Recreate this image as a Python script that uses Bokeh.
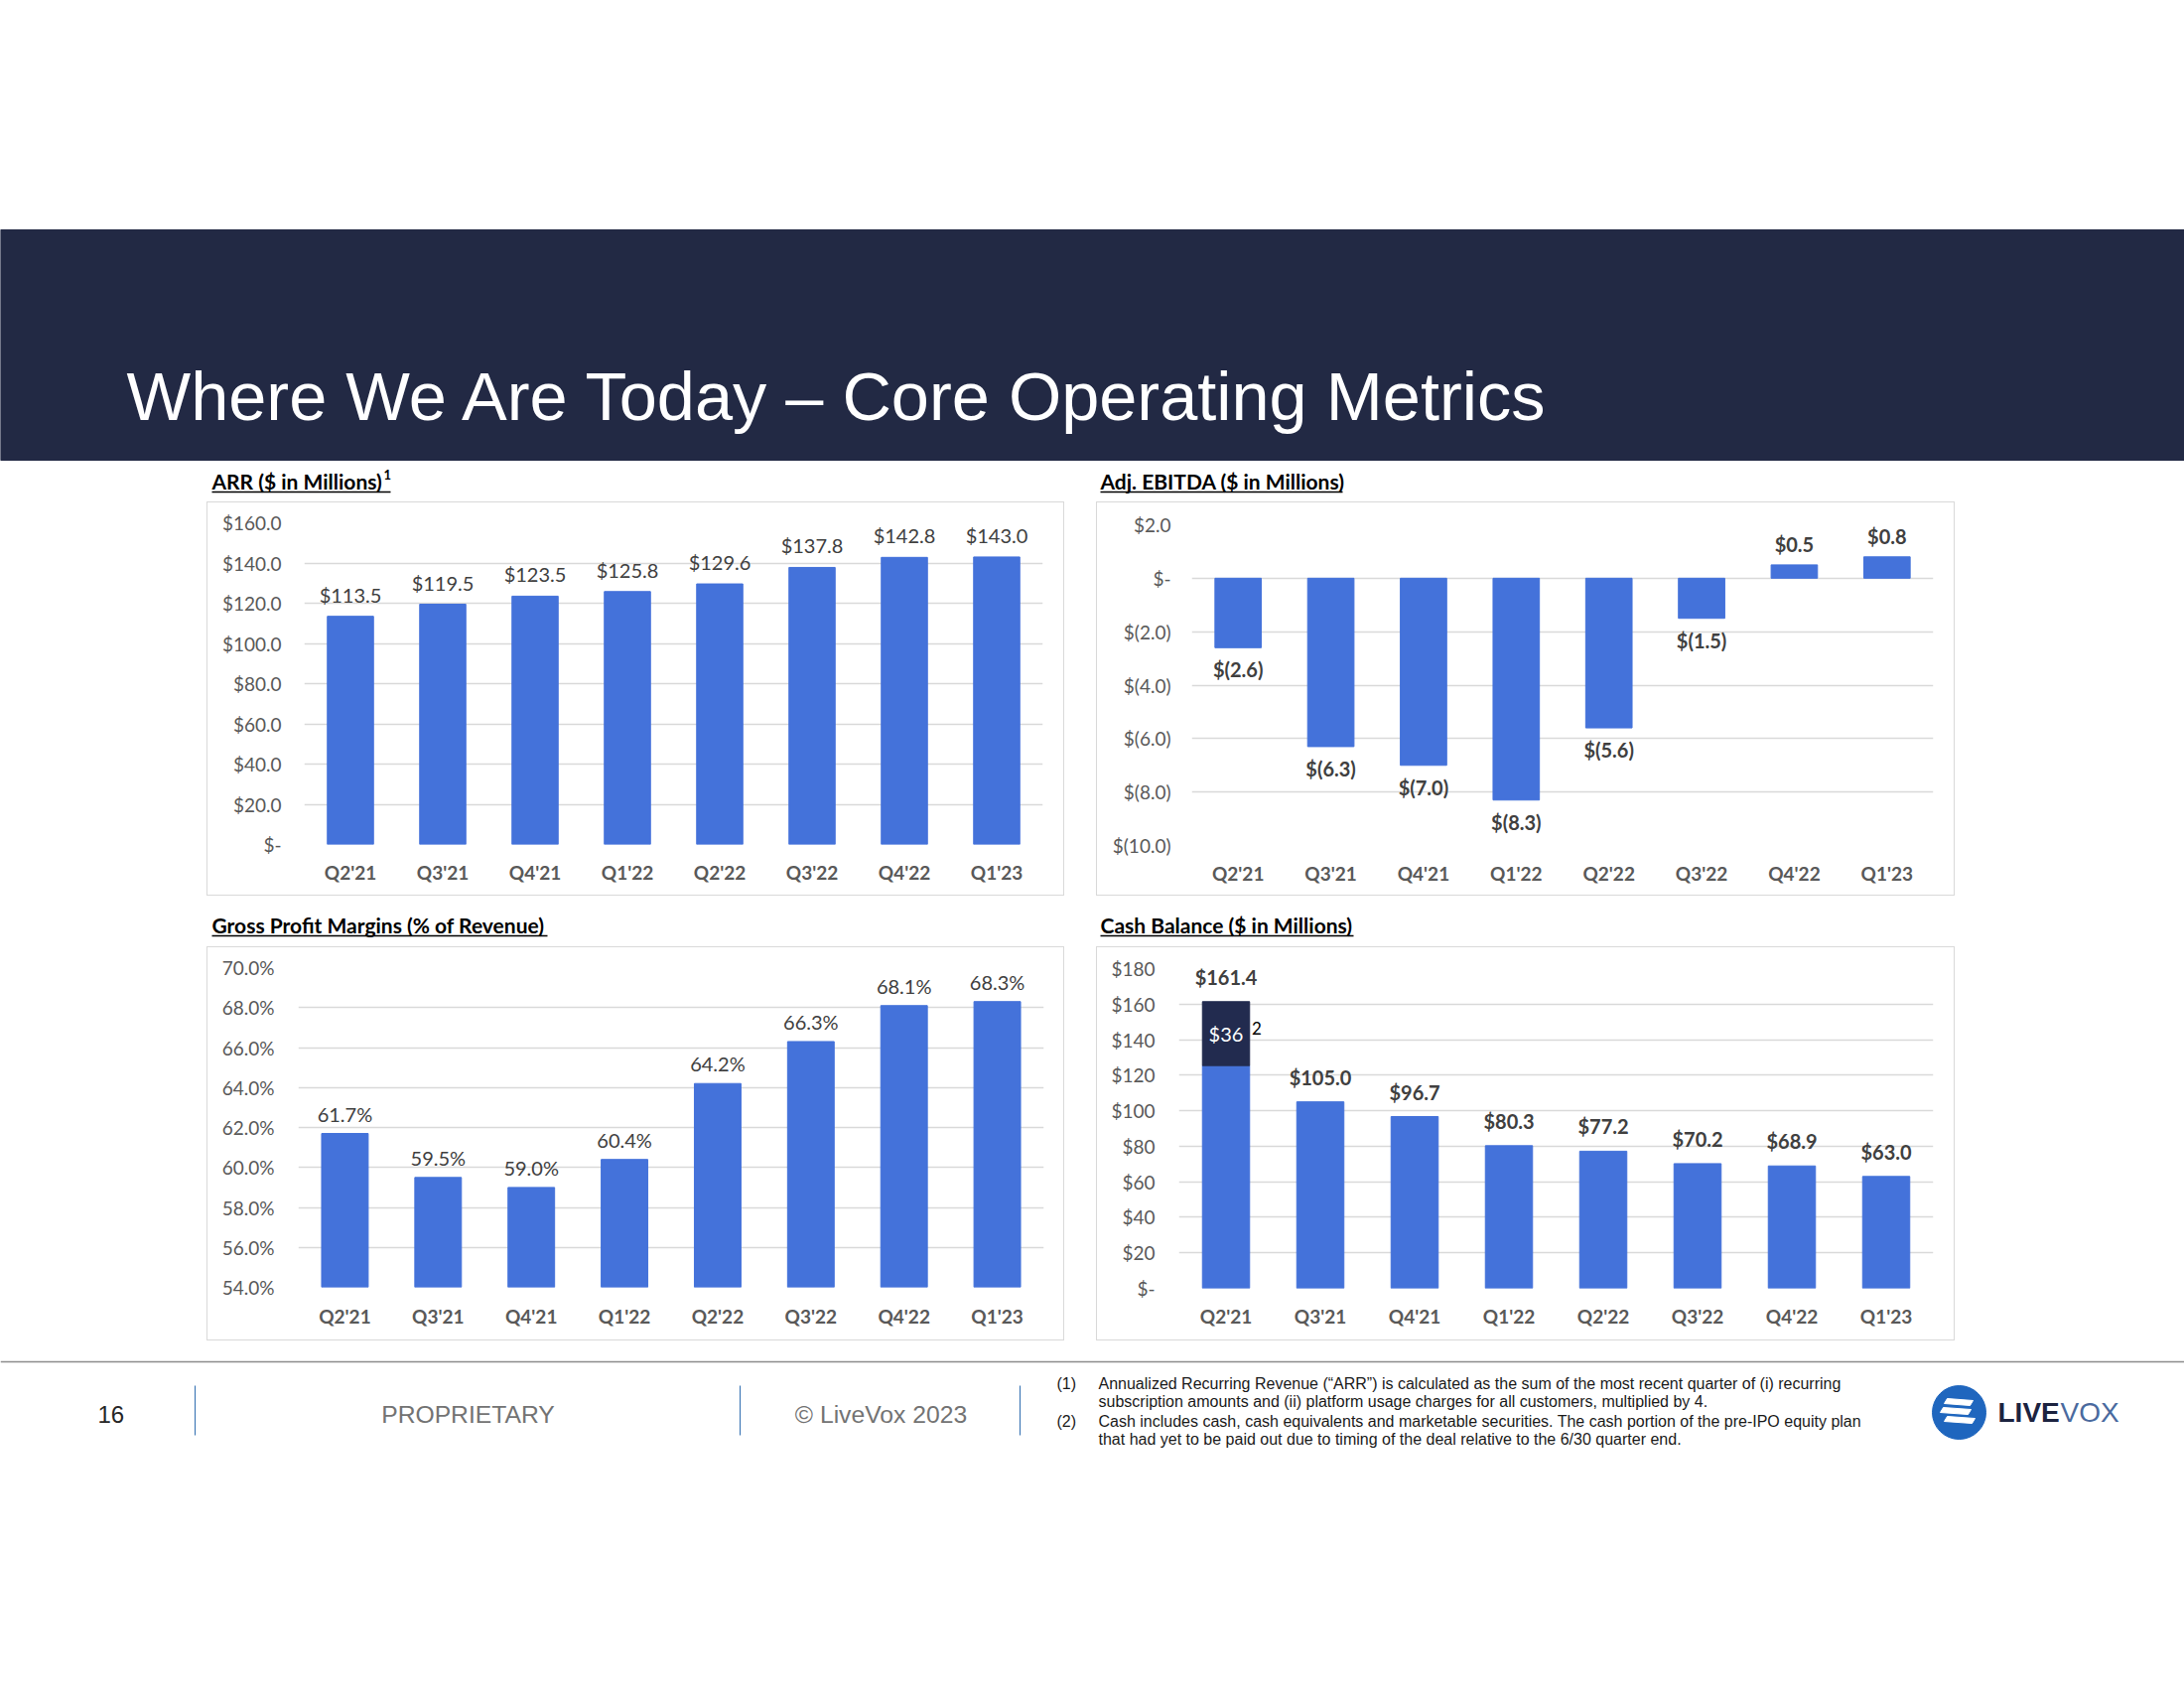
from bokeh.plotting import figure
from bokeh.models import FactorRange, Range1d, FixedTicker, ColumnDataSource, Spacer
from bokeh.layouts import row, column
from bokeh.core.properties import value
from bokeh.embed import file_html
from bokeh.resources import INLINE

# ---------------- data ----------------
QUARTERS = ["Q2'21", "Q3'21", "Q4'21", "Q1'22", "Q2'22", "Q3'22", "Q4'22", "Q1'23"]
ARR = [113.5, 119.5, 123.5, 125.8, 129.6, 137.8, 142.8, 143.0]
EBITDA = [-2.6, -6.3, -7.0, -8.3, -5.6, -1.5, 0.5, 0.8]
GPM = [61.7, 59.5, 59.0, 60.4, 64.2, 66.3, 68.1, 68.3]
CASH = [161.4, 105.0, 96.7, 80.3, 77.2, 70.2, 68.9, 63.0]
CASH_PRE_IPO = [36.0, 0, 0, 0, 0, 0, 0, 0]

ARR_TICKS = [0, 20, 40, 60, 80, 100, 120, 140, 160]
ARR_TICK_LABELS = ["$-", "$20.0", "$40.0", "$60.0", "$80.0", "$100.0", "$120.0", "$140.0", "$160.0"]
EBITDA_TICKS = [-10, -8, -6, -4, -2, 0, 2]
EBITDA_TICK_LABELS = ["$(10.0)", "$(8.0)", "$(6.0)", "$(4.0)", "$(2.0)", "$-", "$2.0"]
GPM_TICKS = [54, 56, 58, 60, 62, 64, 66, 68, 70]
GPM_TICK_LABELS = ["54.0%", "56.0%", "58.0%", "60.0%", "62.0%", "64.0%", "66.0%", "68.0%", "70.0%"]
CASH_TICKS = [0, 20, 40, 60, 80, 100, 120, 140, 160, 180]
CASH_TICK_LABELS = ["$-", "$20", "$40", "$60", "$80", "$100", "$120", "$140", "$160", "$180"]

TITLE = "Where We Are Today \u2013 Core Operating Metrics"
CHART_TITLES = ["ARR ($ in Millions)", "Adj. EBITDA ($ in Millions)",
                "Gross Profit Margins (% of Revenue)", "Cash Balance ($ in Millions)"]
PAGE_NUMBER = "16"
FOOTER_LEFT = "PROPRIETARY"
FOOTER_MID = "\u00a9 LiveVox 2023"
FOOTNOTE_MARKS = ["(1)", "(2)"]
FOOTNOTE_LINES = [
    "Annualized Recurring Revenue (\u201cARR\u201d) is calculated as the sum of the most recent quarter of (i) recurring",
    "subscription amounts and (ii) platform usage charges for all customers, multiplied by 4.",
    "Cash includes cash, cash equivalents and marketable securities. The cash portion of the pre-IPO equity plan",
    "that had yet to be paid out due to timing of the deal relative to the 6/30 quarter end.",
]

# ---------------- style ----------------
NAVY = "#222944"
DARK_BAR = "#222B4F"
BAR = "#4472DA"
BORDER = "#D9D9D9"
GRID = "#D9D9D9"
AXIS_TXT = "#595959"
LBL_TXT = "#404040"
FONT = "Lato"
ARIAL = "Liberation Sans"
PAGE_W = 2200


def base_canvas(h, y0, y1):
    p = figure(width=PAGE_W, height=h, x_range=Range1d(0, PAGE_W), y_range=Range1d(y1, y0),
               x_axis_type=None, y_axis_type=None, min_border=0,
               output_backend="svg", toolbar_location=None)
    p.outline_line_color = None
    p.grid.visible = False
    p.background_fill_color = "white"
    p.border_fill_color = "white"
    return p


def chart(w, h, borders, yr, ticks, tick_labels, y_standoff, x_standoff):
    p = figure(width=w, height=h, x_range=FactorRange(factors=QUARTERS),
               y_range=Range1d(yr[0], yr[1]), output_backend="svg", toolbar_location=None,
               min_border_left=borders[0], min_border_right=borders[1],
               min_border_top=borders[2], min_border_bottom=borders[3])
    p.outline_line_color = None
    p.xgrid.grid_line_color = None
    p.ygrid.grid_line_color = GRID
    p.ygrid.grid_line_width = 1.3
    p.ygrid.ticker = FixedTicker(ticks=ticks)
    p.yaxis.ticker = FixedTicker(ticks=ticks)
    p.yaxis.major_label_overrides = {t: l for t, l in zip(ticks, tick_labels)}
    for ax in (p.xaxis, p.yaxis):
        ax.axis_line_color = None
        ax.major_tick_line_color = None
        ax.minor_tick_line_color = None
        ax.major_label_text_color = AXIS_TXT
        ax.major_label_text_font = FONT
        ax.major_label_text_font_size = "19px"
    p.yaxis.major_label_standoff = y_standoff
    p.xaxis.major_label_standoff = x_standoff
    p.xaxis.major_label_text_font_style = "bold"
    return p


def boxed(fig, w, h):
    return column(
        Spacer(width=w, height=1, styles={"background-color": BORDER}),
        row(Spacer(width=1, height=h - 2, styles={"background-color": BORDER}), fig,
            Spacer(width=1, height=h - 2, styles={"background-color": BORDER})),
        Spacer(width=w, height=1, styles={"background-color": BORDER}),
    )


def labels(p, src, offset, bold, size="20px", color=LBL_TXT):
    p.text(x="q", y="v", text="lbl", source=src, y_offset=offset,
           text_align="center", text_baseline="middle", text_font=value(FONT),
           text_font_size=size, text_color=color, text_font_style="bold" if bold else "normal")


# ---------------- chart 1: ARR ----------------
c1 = chart(862, 395, (97, 21, 20, 51), (0, 160), ARR_TICKS, ARR_TICK_LABELS, 17, 10)
s1 = ColumnDataSource(dict(q=QUARTERS, v=ARR, lbl=[f"${v:.1f}" for v in ARR]))
c1.vbar(x="q", top="v", bottom=0, width=0.5, color=BAR, source=s1)
labels(c1, s1, -22, False)

# ---------------- chart 2: EBITDA ----------------
c2 = chart(863, 395, (95, 21, 22, 50), (-10, 2), EBITDA_TICKS, EBITDA_TICK_LABELS, 15, 10)
s2 = ColumnDataSource(dict(
    q=QUARTERS, v=EBITDA,
    lbl=[f"$({abs(v):.1f})" if v < 0 else f"${v:.1f}" for v in EBITDA],
    off=[22 if v < 0 else -21 for v in EBITDA]))
c2.vbar(x="q", top="v", bottom=0, width=0.5, color=BAR, source=s2)
labels(c2, s2, "off", True)

# ---------------- chart 3: GPM ----------------
c3 = chart(862, 395, (91, 20, 20, 53), (54, 70), GPM_TICKS, GPM_TICK_LABELS, 18, 11)
s3 = ColumnDataSource(dict(q=QUARTERS, v=GPM, lbl=[f"{v:.1f}%" for v in GPM]))
c3.vbar(x="q", top="v", bottom=GPM_TICKS[0], width=0.5, color=BAR, source=s3)
labels(c3, s3, -20, False)

# ---------------- chart 4: Cash ----------------
c4 = chart(863, 395, (82, 21, 21, 52), (0, 180), CASH_TICKS, CASH_TICK_LABELS, 18, 10)
base = [t - p for t, p in zip(CASH, CASH_PRE_IPO)]
s4 = ColumnDataSource(dict(q=QUARTERS, v=CASH, b=base, lbl=[f"${v:.1f}" for v in CASH]))
c4.vbar(x="q", top="b", bottom=0, width=0.5, color=BAR, source=s4)
pre_q = [q for q, p in zip(QUARTERS, CASH_PRE_IPO) if p > 0]
pre_b = [b for b, p in zip(base, CASH_PRE_IPO) if p > 0]
pre_t = [t for t, p in zip(CASH, CASH_PRE_IPO) if p > 0]
pre_v = [p for p in CASH_PRE_IPO if p > 0]
s4b = ColumnDataSource(dict(q=pre_q, b=pre_b, t=pre_t,
                            m=[(b + t) / 2 for b, t in zip(pre_b, pre_t)],
                            lbl=[f"${v:.0f}" for v in pre_v], sup=["2"] * len(pre_q)))
c4.vbar(x="q", top="t", bottom="b", width=0.5, color=DARK_BAR, source=s4b)
labels(c4, s4, -25, True)
c4.text(x="q", y="m", text="lbl", source=s4b, text_align="center", text_baseline="middle",
        text_font=value(FONT), text_font_size="20px", text_color="white")
c4.text(x="q", y="m", text="sup", source=s4b, x_offset=26, y_offset=-5, text_align="left",
        text_baseline="middle", text_font=value(FONT), text_font_size="17px", text_color="black")

# ---------------- header ----------------
hdr = base_canvas(505, 0, 505)
hdr.quad(left=[0], right=[PAGE_W], top=[231], bottom=[463], color=NAVY)
hdr.text(x=[127], y=[399], text=[TITLE], text_font=value(ARIAL), text_font_size="68.5px",
         text_color="white", text_baseline="middle", text_align="left")
hdr.text(x=[213, 1108], y=[484, 484], text=CHART_TITLES[:2], text_font=value(FONT),
         text_font_size="21px", text_font_style="bold", text_color="black",
         text_baseline="middle", text_align="left")
hdr.text(x=[386], y=[477], text=["1"], text_font=value(FONT), text_font_size="13px",
         text_font_style="bold", text_color="black", text_baseline="middle", text_align="left")
hdr.segment(x0=[213, 1108], y0=[495, 495], x1=[393, 1352], y1=[495, 495],
            line_color="black", line_width=1.3)

# ---------------- middle titles ----------------
mid = base_canvas(51, 902, 953)
mid.text(x=[213, 1108], y=[931, 931], text=CHART_TITLES[2:], text_font=value(FONT),
         text_font_size="21px", text_font_style="bold", text_color="black",
         text_baseline="middle", text_align="left")
mid.segment(x0=[213, 1108], y0=[942, 942], x1=[551, 1363], y1=[942, 942],
            line_color="black", line_width=1.3)

# ---------------- footer ----------------
ftr = base_canvas(344, 1350, 1694)
ftr.segment(x0=[0], y0=[1371], x1=[PAGE_W], y1=[1371], line_color="#8C8C8C", line_width=1.5)
ftr.segment(x0=[196, 745, 1027], y0=[1395] * 3, x1=[196, 745, 1027], y1=[1445] * 3,
            line_color="#2F6DB0", line_width=1)
ftr.text(x=[98], y=[1424], text=[PAGE_NUMBER], text_font=value(ARIAL), text_font_size="24px",
         text_color="#262626", text_baseline="middle", text_align="left")
ftr.text(x=[471, 887], y=[1424, 1424], text=[FOOTER_LEFT, FOOTER_MID], text_font=value(ARIAL),
         text_font_size="24.7px", text_color="#737373", text_baseline="middle", text_align="center")
ftr.text(x=[1064, 1064], y=[1393, 1431], text=FOOTNOTE_MARKS, text_font=value(ARIAL),
         text_font_size="16px", text_color="#1A1A1A", text_baseline="middle", text_align="left")
ftr.text(x=[1106] * 4, y=[1393, 1411, 1431, 1449], text=FOOTNOTE_LINES, text_font=value(ARIAL),
         text_font_size="16px", text_color="#1A1A1A", text_baseline="middle", text_align="left")
# logo
ftr.scatter(x=[1973], y=[1422], size=54, marker="circle", color="#1F66BE")
ftr.patches(xs=[[1961, 1987, 1984, 1958], [1957, 1985, 1982, 1954], [1961, 1989, 1986, 1958]],
            ys=[[1408, 1410, 1415, 1413], [1417, 1419, 1424, 1422], [1426, 1428, 1433, 1431]],
            color="white")
ftr.text(x=[2012], y=[1422], text=["LIVE"], text_font=value(ARIAL), text_font_size="28px",
         text_font_style="bold", text_color="#1C2340", text_baseline="middle", text_align="left")
ftr.text(x=[2075], y=[1422], text=["VOX"], text_font=value(ARIAL), text_font_size="28px",
         text_color="#4A6A9E", text_baseline="middle", text_align="left")

# ---------------- layout ----------------
row1 = row(Spacer(width=208, height=397), boxed(c1, 864, 397), Spacer(width=32, height=397),
           boxed(c2, 865, 397), Spacer(width=231, height=397))
row2 = row(Spacer(width=208, height=397), boxed(c3, 864, 397), Spacer(width=32, height=397),
           boxed(c4, 865, 397), Spacer(width=231, height=397))
layout = column(hdr, row1, mid, row2, ftr)

open("out.html", "w").write(file_html(layout, INLINE, title="Core Operating Metrics"))
